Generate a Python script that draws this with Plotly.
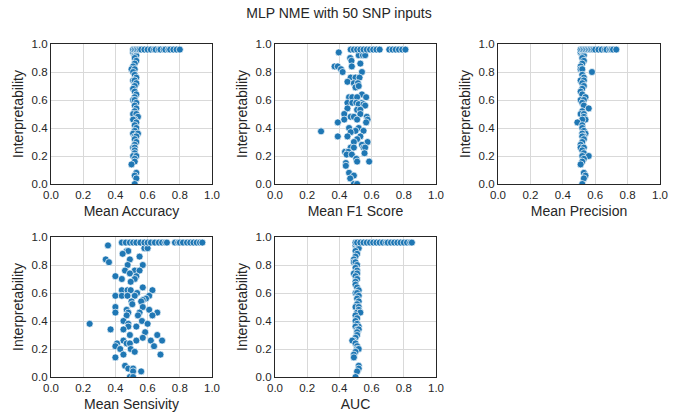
import plotly.graph_objects as go

# ---------------- data ----------------
title_text = "MLP NME with 50 SNP inputs"
x_titles = ["Mean Accuracy", "Mean F1 Score", "Mean Precision", "Mean Sensivity", "AUC"]
y_title = "Interpretability"
tick_vals = [0.0, 0.2, 0.4, 0.6, 0.8, 1.0]
tick_text = ["0.0", "0.2", "0.4", "0.6", "0.8", "1.0"]

top_y = 0.96

# interpretability values of the models forming the narrow columns (panels 1, 3, 5)
col_y = [0.94, 0.92, 0.92, 0.90, 0.88, 0.86, 0.84, 0.82, 0.82, 0.80, 0.78, 0.76, 0.74, 0.74,
         0.72, 0.70, 0.68, 0.66, 0.64, 0.62, 0.60, 0.60, 0.58, 0.56, 0.54, 0.52, 0.50, 0.50,
         0.48, 0.46, 0.46, 0.44, 0.42, 0.40, 0.38, 0.36, 0.36, 0.34, 0.34, 0.32, 0.30, 0.28,
         0.26, 0.26, 0.24, 0.22, 0.20, 0.20, 0.18, 0.16, 0.14, 0.08, 0.06, 0.04, 0.00]

# Mean Accuracy
acc_col_x = [0.51, 0.52, 0.53, 0.52, 0.53, 0.52, 0.51, 0.50, 0.52, 0.51, 0.52, 0.53, 0.51, 0.52,
             0.53, 0.52, 0.51, 0.52, 0.53, 0.52, 0.51, 0.52, 0.53, 0.52, 0.53, 0.52, 0.51, 0.53,
             0.54, 0.52, 0.51, 0.53, 0.52, 0.53, 0.52, 0.51, 0.54, 0.52, 0.53, 0.52, 0.53, 0.52,
             0.51, 0.52, 0.52, 0.52, 0.51, 0.53, 0.52, 0.52, 0.50, 0.53, 0.52, 0.53, 0.52]
acc_top_x = [0.51, 0.52, 0.53, 0.54, 0.55, 0.56, 0.58, 0.60, 0.62, 0.64, 0.65, 0.67, 0.68,
             0.70, 0.71, 0.73, 0.74, 0.76, 0.78, 0.80]

# Mean Precision
prec_col_x = [0.51, 0.52, 0.53, 0.52, 0.53, 0.52, 0.51, 0.51, 0.52, 0.58, 0.52, 0.53, 0.51, 0.53,
              0.52, 0.53, 0.52, 0.51, 0.52, 0.54, 0.51, 0.53, 0.52, 0.53, 0.56, 0.52, 0.51, 0.53,
              0.53, 0.54, 0.52, 0.49, 0.52, 0.52, 0.53, 0.54, 0.52, 0.53, 0.52, 0.53, 0.52, 0.51,
              0.51, 0.53, 0.52, 0.53, 0.56, 0.52, 0.53, 0.52, 0.51, 0.53, 0.54, 0.53, 0.52]
prec_top_x = [0.51, 0.52, 0.53, 0.54, 0.55, 0.56, 0.57, 0.58, 0.59, 0.60, 0.62, 0.64, 0.66,
              0.67, 0.69, 0.70, 0.71, 0.73]

# AUC
auc_col_x = [0.50, 0.51, 0.52, 0.50, 0.51, 0.50, 0.49, 0.49, 0.50, 0.51, 0.50, 0.51, 0.49, 0.51,
             0.50, 0.51, 0.50, 0.50, 0.51, 0.52, 0.50, 0.51, 0.52, 0.51, 0.52, 0.51, 0.50, 0.52,
             0.52, 0.51, 0.53, 0.50, 0.51, 0.50, 0.51, 0.52, 0.50, 0.51, 0.52, 0.51, 0.51, 0.50,
             0.49, 0.48, 0.50, 0.51, 0.51, 0.52, 0.50, 0.49, 0.49, 0.52, 0.52, 0.51, 0.50]
auc_top_x = [0.50, 0.51, 0.53, 0.55, 0.57, 0.59, 0.61, 0.63, 0.65, 0.67, 0.69, 0.70, 0.72,
             0.74, 0.76, 0.78, 0.80, 0.82, 0.84, 0.85]

# Mean F1 Score (scattered)
f1_x = [0.396, 0.467, 0.475, 0.52, 0.546, 0.56, 0.37, 0.39, 0.41, 0.42, 0.477, 0.53, 0.54,
        0.47, 0.50, 0.525, 0.45, 0.49, 0.515, 0.50, 0.52, 0.54, 0.46, 0.48, 0.51, 0.566,
        0.45, 0.48, 0.505, 0.54, 0.52, 0.55, 0.56, 0.51, 0.45, 0.53, 0.43, 0.47, 0.49, 0.53,
        0.57, 0.575, 0.43, 0.51, 0.566, 0.39, 0.46, 0.52, 0.50, 0.47, 0.55, 0.286, 0.45,
        0.53, 0.39, 0.51, 0.575, 0.49, 0.54, 0.55, 0.56, 0.47, 0.49, 0.435, 0.455, 0.445,
        0.477, 0.556, 0.505, 0.51, 0.585, 0.44, 0.44, 0.46, 0.49, 0.467, 0.49, 0.51]
f1_y = [0.94, 0.90, 0.88, 0.92, 0.92, 0.92, 0.84, 0.84, 0.82, 0.80, 0.84, 0.86, 0.80,
        0.76, 0.76, 0.76, 0.73, 0.72, 0.72, 0.69, 0.70, 0.64, 0.62, 0.62, 0.62, 0.62,
        0.58, 0.58, 0.58, 0.58, 0.57, 0.57, 0.56, 0.53, 0.54, 0.53, 0.50, 0.48, 0.48, 0.50,
        0.48, 0.46, 0.46, 0.46, 0.44, 0.44, 0.40, 0.40, 0.38, 0.37, 0.38, 0.376, 0.34,
        0.34, 0.34, 0.32, 0.30, 0.30, 0.28, 0.26, 0.26, 0.26, 0.26, 0.23, 0.23, 0.21,
        0.21, 0.22, 0.18, 0.16, 0.16, 0.15, 0.13, 0.08, 0.06, 0.04, 0.00, 0.00]
f1_top_x = [0.47, 0.49, 0.51, 0.53, 0.55, 0.57, 0.59, 0.61, 0.63, 0.65, 0.71, 0.73, 0.75,
            0.77, 0.79, 0.81]

# Mean Sensivity (scattered)
sens_x = [0.354, 0.58, 0.60, 0.47, 0.48, 0.445, 0.55, 0.34, 0.49, 0.36, 0.476, 0.57, 0.46,
          0.52, 0.55, 0.49, 0.40, 0.53, 0.44, 0.52, 0.495, 0.57, 0.44, 0.475, 0.495, 0.63,
          0.535, 0.40, 0.44, 0.475, 0.52, 0.61, 0.59, 0.57, 0.50, 0.56, 0.505, 0.40, 0.57,
          0.47, 0.61, 0.40, 0.48, 0.55, 0.66, 0.47, 0.54, 0.63, 0.45, 0.565, 0.48, 0.60,
          0.24, 0.48, 0.53, 0.37, 0.45, 0.585, 0.49, 0.66, 0.57, 0.45, 0.53, 0.62, 0.69,
          0.41, 0.47, 0.49, 0.40, 0.64, 0.43, 0.495, 0.52, 0.45, 0.68, 0.40, 0.46, 0.48,
          0.51, 0.51, 0.56, 0.49, 0.51]
sens_y = [0.94, 0.92, 0.92, 0.90, 0.90, 0.88, 0.86, 0.84, 0.84, 0.82, 0.80, 0.80, 0.76,
          0.76, 0.76, 0.74, 0.72, 0.72, 0.70, 0.70, 0.68, 0.64, 0.62, 0.62, 0.62, 0.62,
          0.60, 0.58, 0.58, 0.58, 0.58, 0.58, 0.56, 0.55, 0.54, 0.54, 0.52, 0.50, 0.50,
          0.48, 0.48, 0.46, 0.46, 0.46, 0.46, 0.44, 0.44, 0.44, 0.40, 0.40, 0.38, 0.38,
          0.38, 0.36, 0.36, 0.34, 0.34, 0.32, 0.30, 0.30, 0.28, 0.26, 0.26, 0.26, 0.26,
          0.24, 0.24, 0.24, 0.22, 0.22, 0.20, 0.20, 0.18, 0.16, 0.16, 0.14, 0.08, 0.06,
          0.06, 0.04, 0.04, 0.00, 0.00]
sens_top_x = [0.44, 0.465, 0.49, 0.51, 0.53, 0.555, 0.58, 0.60, 0.62, 0.645, 0.67, 0.69,
              0.71, 0.72, 0.77, 0.79, 0.80, 0.82, 0.845, 0.865, 0.885, 0.905, 0.925, 0.94]

panels = [
    (acc_col_x + acc_top_x, col_y + [top_y] * len(acc_top_x)),
    (f1_x + f1_top_x, f1_y + [top_y] * len(f1_top_x)),
    (prec_col_x + prec_top_x, col_y + [top_y] * len(prec_top_x)),
    (sens_x + sens_top_x, sens_y + [top_y] * len(sens_top_x)),
    (auc_col_x + auc_top_x, col_y + [top_y] * len(auc_top_x)),
]

# ---------------- layout ----------------
W, H = 678, 413
x_doms = [(51, 212), (275, 436), (498, 660)]
y_doms = [(44, 184), (237, 377)]
FONT = "Liberation Sans, Arial, sans-serif"
TXT = "#262626"

fig = go.Figure()
layout = dict(
    width=W, height=H,
    margin=dict(l=0, r=0, t=0, b=0),
    paper_bgcolor="white", plot_bgcolor="white",
    showlegend=False,
    font=dict(family=FONT, color=TXT, size=11),
    title=dict(text=title_text, x=0.5, xanchor="center", y=1 - 13 / H, yanchor="middle",
               font=dict(size=14, family=FONT, color=TXT)),
)

for i, (xs, ys) in enumerate(panels):
    r, c = divmod(i, 3)
    xd, yd = x_doms[c], y_doms[r]
    n = i + 1
    xa = "xaxis" if n == 1 else f"xaxis{n}"
    ya = "yaxis" if n == 1 else f"yaxis{n}"
    xref = "x" if n == 1 else f"x{n}"
    yref = "y" if n == 1 else f"y{n}"
    fig.add_trace(go.Scatter(
        x=xs, y=ys, mode="markers", xaxis=xref, yaxis=yref,
        marker=dict(color="#1f77b4", size=7, line=dict(color="white", width=0.7)),
        cliponaxis=True,
    ))
    common = dict(
        range=[0, 1], tickvals=tick_vals, ticktext=tick_text,
        showgrid=True, gridcolor="#d9d9d9", gridwidth=1,
        showline=True, linecolor="#262626", linewidth=1.3, mirror=True,
        ticks="", zeroline=False, automargin=False,
        tickfont=dict(size=11.5, family=FONT, color=TXT),
    )
    layout[xa] = dict(common, domain=[xd[0] / W, xd[1] / W], anchor=yref,
                      title=dict(text=x_titles[i], font=dict(size=14, family=FONT, color=TXT),
                                 standoff=6))
    layout[ya] = dict(common, domain=[1 - yd[1] / H, 1 - yd[0] / H], anchor=xref,
                      title=dict(text=y_title, font=dict(size=14, family=FONT, color=TXT),
                                 standoff=4))

fig.update_layout(**layout)
fig.write_html("out.html")
